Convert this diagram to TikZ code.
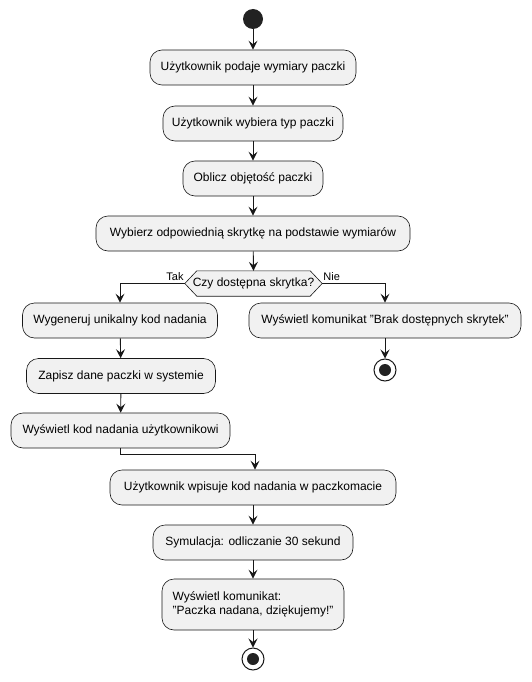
\documentclass[tikz,border=0pt]{standalone}
\usepackage{fontspec}
\setmainfont{Liberation Sans}
\usetikzlibrary{arrows.meta}
\definecolor{boxfill}{HTML}{F1F1F1}
\definecolor{ink}{HTML}{181818}
\definecolor{dot}{HTML}{222222}
\tikzset{
  action/.style={draw=ink, fill=boxfill, line width=0.6pt, rounded corners=12pt,
    minimum height=35pt, inner xsep=0pt, inner ysep=4pt,
    font=\fontsize{12}{14.5}\selectfont, text=black},
  flow/.style={draw=ink, line width=0.9pt,
    -{Stealth[length=9pt, width=9pt, inset=3.5pt]}},
  plain/.style={draw=ink, line width=0.9pt},
  startdot/.style={circle, fill=dot, minimum size=20pt, inner sep=0pt},
  enddot/.style={circle, draw=ink, line width=1pt, fill=white,
    minimum size=22pt, inner sep=0pt,
    path picture={\fill[dot] (path picture bounding box.center) circle (6pt);}},
  branchlbl/.style={font=\fontsize{11}{13}\selectfont, inner sep=1pt}
}
\begin{document}
\begin{tikzpicture}[x=1pt, y=-1pt]
\useasboundingbox (0,0) rectangle (531,682);

% start and main sequence
\node[startdot] (start) at (253,19) {};
\node[action, minimum width=206pt] (b1) at (253,67.5) {Użytkownik podaje wymiary paczki};
\node[action, minimum width=180pt] (b2) at (253,123.5) {Użytkownik wybiera typ paczki};
\node[action, minimum width=140pt] (b3) at (253,178.5) {Oblicz objętość paczki};
\node[action, minimum width=314pt] (b4) at (253,233.5) {Wybierz odpowiednią skrytkę na podstawie wymiarów};

% decision
\node[minimum width=137pt, minimum height=25pt, inner sep=0pt,
      font=\fontsize{12}{14}\selectfont] (q) at (253.5,283.5) {};
\draw[ink, fill=boxfill, line width=0.6pt]
  (q.west) -- ([xshift=12pt]q.north west) -- ([xshift=-12pt]q.north east)
  -- (q.east) -- ([xshift=-12pt]q.south east) -- ([xshift=12pt]q.south west) -- cycle;
\node[minimum width=137pt, minimum height=25pt, inner sep=0pt,
      font=\fontsize{12}{14}\selectfont] (qtext) at (q) {Czy dostępna skrytka?};

% "Tak" branch
\node[action, minimum width=195pt] (gen) at (120,320.5) {Wygeneruj unikalny kod nadania};
\node[action, minimum width=189pt] (zap) at (121,376) {Zapisz dane paczki w systemie};
\node[action, minimum width=219pt] (wys) at (120.5,430.5) {Wyświetl kod nadania użytkownikowi};

% "Nie" branch
\node[action, minimum width=272pt] (msg) at (385,320.5) {Wyświetl komunikat "Brak dostępnych skrytek"};
\node[enddot] (end1) at (385,370) {};

% merged tail
\node[action, minimum width=286pt] (wpis) at (253,487.5) {Użytkownik wpisuje kod nadania w paczkomacie};
\node[action, minimum width=200pt] (sym) at (253,542.5) {Symulacja: odliczanie 30 sekund};
\node[action, minimum width=182pt, minimum height=51pt, align=left] (kom) at (253,604.5)
  {Wyświetl komunikat:\\"Paczka nadana, dziękujemy!"};
\node[enddot] (end2) at (253,659) {};

% connectors
\draw[flow] (start) -- (b1);
\draw[flow] (b1) -- (b2);
\draw[flow] (b2) -- (b3);
\draw[flow] (b3) -- (b4);
\draw[flow] (b4) -- (q.north);
\draw[flow] (q.west) -| (gen.north);
\draw[flow] (q.east) -| (msg.north);
\node[branchlbl, anchor=south east] (tak) at ([yshift=1.5pt]q.west) {Tak};
\node[branchlbl, anchor=south west] (nie) at ([yshift=1.5pt]q.east) {Nie};
\draw[flow] (msg) -- (end1);
\draw[flow] (gen) -- (zap);
\draw[flow] (zap) -- (wys);
\coordinate (join) at (255,454);
\draw[plain] (wys.south) |- (join);
\draw[flow] (join) -- (join |- wpis.north);
\draw[flow] (wpis) -- (sym);
\draw[flow] (sym) -- (kom);
\draw[flow] (kom) -- (end2);
\end{tikzpicture}
\end{document}
